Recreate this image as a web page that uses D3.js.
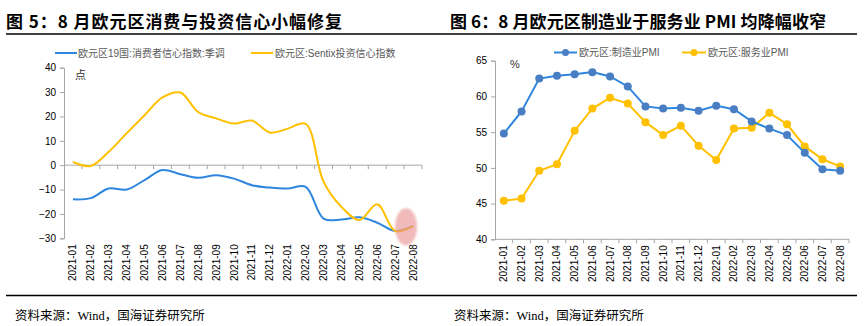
<!DOCTYPE html>
<html lang="zh">
<head>
<meta charset="UTF-8">
<script src="https://cdn.jsdelivr.net/npm/d3@7"></script>
<style>
    body { margin: 0; background: #fff; }
    svg text { font-family: Arial, "Liberation Sans", "Noto Sans CJK SC", sans-serif; }
    .title { font-family: "Noto Sans CJK SC", sans-serif; font-weight: bold; font-size: 17px; fill: #000; }
    .source { font-family: "Liberation Serif", "Noto Sans CJK SC", serif; font-size: 12.5px; fill: #000; }
    .legend { font-size: 10px; fill: #595959; }
    .tick text { font-size: 10px; fill: #000; }
</style>
</head>
<body>
<div id="chart"></div>
<script>
    // categories shared by both panels
    const months = ["2021-01", "2021-02", "2021-03", "2021-04", "2021-05", "2021-06", "2021-07",
        "2021-08", "2021-09", "2021-10", "2021-11", "2021-12", "2022-01", "2022-02", "2022-03",
        "2022-04", "2022-05", "2022-06", "2022-07", "2022-08"];

    // Fig 5: confidence
    const consumerConf = [-14.0, -13.5, -9.6, -10.0, -6.1, -2.0, -3.7, -5.2, -4.1, -5.5,
        -8.2, -9.2, -9.6, -8.9, -21.9, -22.3, -21.4, -23.6, -27.0, -25.0];
    const sentixConf = [1.3, -0.3, 5.5, 13.1, 20.5, 27.8, 29.8, 21.8, 19.2, 17.1,
        18.3, 13.4, 15.0, 17.0, -6.8, -17.1, -22.5, -16.0, -27.0, -25.0];
    const leftTicks = [40, 30, 20, 10, 0, -10, -20, -30];

    // Fig 6: PMI
    const mfgPMI = [54.8, 57.9, 62.5, 62.9, 63.1, 63.4, 62.8, 61.4, 58.6, 58.3,
        58.4, 58.0, 58.7, 58.2, 56.5, 55.5, 54.6, 52.1, 49.8, 49.6];
    const svcPMI = [45.4, 45.7, 49.6, 50.5, 55.2, 58.3, 59.8, 59.0, 56.4, 54.6,
        55.9, 53.1, 51.1, 55.5, 55.6, 57.7, 56.1, 53.0, 51.2, 50.2];
    const rightTicks = [40, 45, 50, 55, 60, 65];

    const blue = "#2e86de", blueMarker = "#4a7ec2", yellow = "#ffc000", axisGray = "#a6a6a6";

    const svg = d3.select("#chart").append("svg")
        .attr("width", 865)
        .attr("height", 326);

    // titles and rules
    svg.append("text").attr("class", "title").attr("x", 6).attr("y", 28)
        .attr("textLength", 336).attr("lengthAdjust", "spacing")
        .text("图 5：8 月欧元区消费与投资信心小幅修复");
    svg.append("text").attr("class", "title").attr("x", 450).attr("y", 28)
        .attr("textLength", 376).attr("lengthAdjust", "spacing")
        .text("图 6：8 月欧元区制造业于服务业 PMI 均降幅收窄");
    svg.append("line").attr("x1", 6).attr("x2", 857).attr("y1", 34).attr("y2", 34)
        .attr("stroke", "#000").attr("stroke-width", 1.3);
    svg.append("line").attr("x1", 6).attr("x2", 857).attr("y1", 295.5).attr("y2", 295.5)
        .attr("stroke", "#000").attr("stroke-width", 1.3);
    svg.append("text").attr("class", "source").attr("x", 15).attr("y", 320)
        .text("资料来源：Wind，国海证券研究所");
    svg.append("text").attr("class", "source").attr("x", 454).attr("y", 320)
        .text("资料来源：Wind，国海证券研究所");

    function drawAxes(g, x, y, ticks, xAxisY, unit, unitX, unitY) {
        const yAxis = g.append("g")
            .attr("transform", `translate(${x.range()[0]},0)`)
            .call(d3.axisLeft(y).tickValues(ticks).tickSize(4).tickPadding(4));
        yAxis.select(".domain").attr("stroke", axisGray);
        yAxis.selectAll(".tick line").attr("stroke", axisGray);

        // category axis: ticks on band edges
        const xg = g.append("g");
        xg.append("line")
            .attr("x1", x.range()[0]).attr("x2", x.range()[1])
            .attr("y1", xAxisY).attr("y2", xAxisY)
            .attr("stroke", axisGray);
        xg.selectAll(".xt")
            .data(months.slice(1).concat(["end"]))
            .join("line")
            .attr("x1", d => d === "end" ? x.range()[1] : x(d))
            .attr("x2", d => d === "end" ? x.range()[1] : x(d))
            .attr("y1", xAxisY).attr("y2", xAxisY + 4)
            .attr("stroke", axisGray);

        g.selectAll(".xl")
            .data(months)
            .join("text")
            .attr("class", "tick")
            .attr("font-size", 10)
            .attr("text-anchor", "end")
            .attr("dominant-baseline", "central")
            .attr("transform", d => `translate(${x(d) + x.bandwidth() / 2},${y.range()[0] + 6}) rotate(-90)`)
            .text(d => d);

        g.append("text").attr("x", unitX).attr("y", unitY)
            .attr("font-size", 11).attr("fill", "#333").text(unit);
    }

    // ---- Fig 5 ----
    const x1 = d3.scaleBand().domain(months).range([64, 422]);
    const y1 = d3.scaleLinear().domain([-30, 40]).range([238.3, 67.7]);
    const g1 = svg.append("g");
    drawAxes(g1, x1, y1, leftTicks, y1(0), "点", 75, 79);

    const line1 = d3.line()
        .x((d, i) => x1(months[i]) + x1.bandwidth() / 2)
        .y(d => y1(d))
        .curve(d3.curveCatmullRom.alpha(0.5));
    g1.append("path").datum(consumerConf).attr("fill", "none")
        .attr("stroke", blue).attr("stroke-width", 2).attr("d", line1);
    g1.append("path").datum(sentixConf).attr("fill", "none")
        .attr("stroke", yellow).attr("stroke-width", 2).attr("d", line1);

    // highlight ellipse around the last point
    const blur = svg.append("defs").append("filter").attr("id", "soft");
    blur.append("feGaussianBlur").attr("stdDeviation", 1.2);
    g1.append("ellipse")
        .attr("cx", x1("2022-08") + x1.bandwidth() / 2 - 7).attr("cy", y1(-25.3))
        .attr("rx", 11).attr("ry", 18.5)
        .attr("fill", "#e88e8e").attr("opacity", 0.6)
        .attr("filter", "url(#soft)");

    // legend
    const lg1 = svg.append("g");
    lg1.append("line").attr("x1", 55).attr("x2", 77).attr("y1", 53).attr("y2", 53)
        .attr("stroke", blue).attr("stroke-width", 2);
    lg1.append("text").attr("class", "legend").attr("x", 78).attr("y", 56.5)
        .text("欧元区19国:消费者信心指数:季调");
    lg1.append("line").attr("x1", 251).attr("x2", 273).attr("y1", 53).attr("y2", 53)
        .attr("stroke", yellow).attr("stroke-width", 2);
    lg1.append("text").attr("class", "legend").attr("x", 275).attr("y", 56.5)
        .text("欧元区:Sentix投资信心指数");

    // ---- Fig 6 ----
    const x2 = d3.scaleBand().domain(months).range([495, 849]);
    const y2 = d3.scaleLinear().domain([40, 65]).range([239.3, 60.7]);
    const g2 = svg.append("g");
    drawAxes(g2, x2, y2, rightTicks, y2(40), "%", 510, 68);

    const line2 = d3.line()
        .x((d, i) => x2(months[i]) + x2.bandwidth() / 2);
    [[svcPMI, yellow, yellow], [mfgPMI, blue, blueMarker]].forEach(([vals, c, mc]) => {
        g2.append("path").datum(vals).attr("fill", "none")
            .attr("stroke", c).attr("stroke-width", 2)
            .attr("d", line2.y(d => y2(d)));
        g2.selectAll(null).data(vals).join("circle")
            .attr("cx", (d, i) => x2(months[i]) + x2.bandwidth() / 2)
            .attr("cy", d => y2(d))
            .attr("r", 4)
            .attr("fill", mc);
    });

    const lg2 = svg.append("g");
    [[554, 577, blue, blueMarker, "欧元区:制造业PMI"], [682, 706, yellow, yellow, "欧元区:服务业PMI"]]
        .forEach(([a, b, c, mc, label]) => {
            lg2.append("line").attr("x1", a).attr("x2", b).attr("y1", 52.5).attr("y2", 52.5)
                .attr("stroke", c).attr("stroke-width", 2);
            lg2.append("circle").attr("cx", (a + b) / 2).attr("cy", 52.5).attr("r", 3.5).attr("fill", mc);
            lg2.append("text").attr("class", "legend").attr("x", b + 2).attr("y", 56)
                .text(label);
        });
</script>
</body>
</html>
